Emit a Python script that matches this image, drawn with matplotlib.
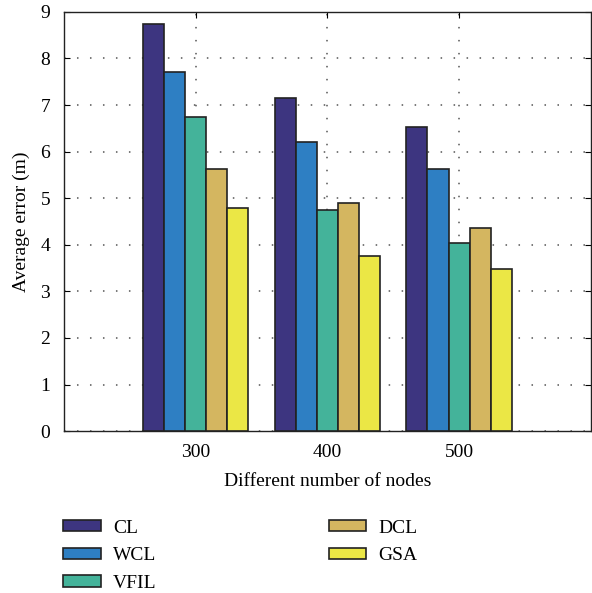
import numpy as np
import matplotlib
matplotlib.use('Agg')
from matplotlib import pyplot as plt

plt.rcParams['font.family'] = ['Liberation Serif', 'DejaVu Serif']

# data
nodes = ['300', '400', '500']
methods = ['CL', 'WCL', 'VFIL', 'DCL', 'GSA']
cl = [8.73, 7.15, 6.53]
wcl = [7.71, 6.21, 5.63]
vfil = [6.74, 4.75, 4.03]
dcl = [5.63, 4.89, 4.37]
gsa = [4.80, 3.75, 3.48]
colors = ['#3d3580', '#2e7fc3', '#44b39a', '#d4b660', '#ebe745']

series = [cl, wcl, vfil, dcl, gsa]

fs = 14
fig = plt.figure(figsize=(5.92, 5.93), dpi=100)
ax = fig.add_axes([0.108, 0.273, 0.890, 0.707])

xs = np.arange(1, len(nodes) + 1)
w = 0.16
for i, (vals, lab, c) in enumerate(zip(series, methods, colors)):
    off = (i - 2) * w
    ax.bar(xs + off, vals, w, color=c, edgecolor='#222222', linewidth=1.2,
           label=lab, zorder=3)

ax.set_xlim(0, 4)
ax.set_ylim(0, 9)
ax.set_xticks(xs)
ax.set_xticklabels(nodes)
ax.set_yticks(range(0, 10))
ax.tick_params(direction='in', length=4, labelsize=fs, top=True, right=True,
               width=0.8, pad=9)
ax.tick_params(axis='y', pad=10)
ax.grid(True, linestyle=(0, (1, 7.5)), color='#555555', linewidth=1.1, zorder=0)
for s in ax.spines.values():
    s.set_linewidth(1.0)
    s.set_color('#222222')

ax.set_xlabel('Different number of nodes', fontsize=fs, labelpad=9)
ax.set_ylabel('Average error (m)', fontsize=fs, labelpad=7)

leg = fig.legend(loc='upper left', bbox_to_anchor=(0.093, 0.137), ncol=2,
                 frameon=False, fontsize=fs, handlelength=1.95,
                 handleheight=0.5, columnspacing=8.85, labelspacing=0.55,
                 handletextpad=0.62, borderaxespad=0)

plt.savefig('out.png', dpi=100)
